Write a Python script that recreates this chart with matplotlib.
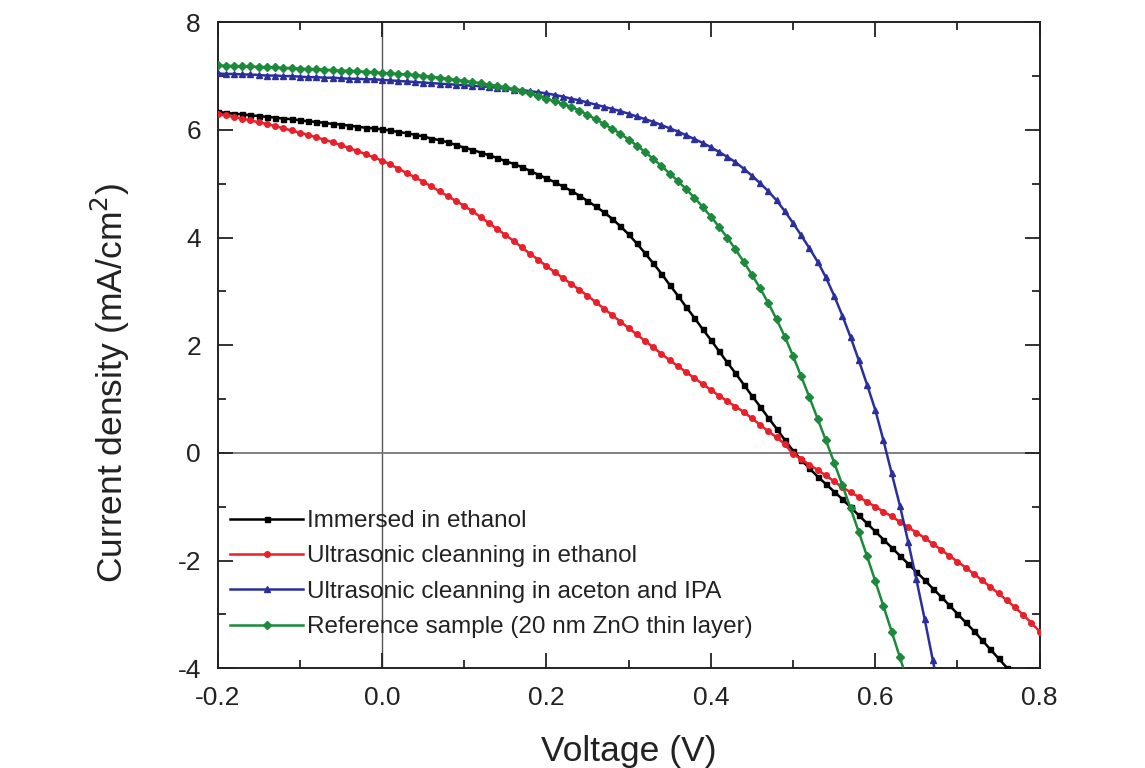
import matplotlib
matplotlib.use("Agg")
import matplotlib.pyplot as plt

plt.rcParams['font.family'] = ['Liberation Sans', 'DejaVu Sans']

# ---------------------  J-V data (0.01 V steps) --------------------------------------------
voltage = [-0.20, -0.19, -0.18, -0.17, -0.16, -0.15, -0.14, -0.13, -0.12, -0.11,
           -0.10, -0.09, -0.08, -0.07, -0.06, -0.05, -0.04, -0.03, -0.02, -0.01,
           0.00, 0.01, 0.02, 0.03, 0.04, 0.05, 0.06, 0.07, 0.08, 0.09,
           0.10, 0.11, 0.12, 0.13, 0.14, 0.15, 0.16, 0.17, 0.18, 0.19,
           0.20, 0.21, 0.22, 0.23, 0.24, 0.25, 0.26, 0.27, 0.28, 0.29,
           0.30, 0.31, 0.32, 0.33, 0.34, 0.35, 0.36, 0.37, 0.38, 0.39,
           0.40, 0.41, 0.42, 0.43, 0.44, 0.45, 0.46, 0.47, 0.48, 0.49,
           0.50, 0.51, 0.52, 0.53, 0.54, 0.55, 0.56, 0.57, 0.58, 0.59,
           0.60, 0.61, 0.62, 0.63, 0.64, 0.65, 0.66, 0.67, 0.68, 0.69,
           0.70, 0.71, 0.72, 0.73, 0.74, 0.75, 0.76, 0.77, 0.78, 0.79,
           0.80]

j_immersed = [6.33, 6.32, 6.30, 6.29, 6.27, 6.26, 6.24, 6.23, 6.21, 6.20,
              6.18, 6.16, 6.15, 6.13, 6.11, 6.10, 6.08, 6.06, 6.04, 6.03,
              6.01, 5.99, 5.96, 5.94, 5.91, 5.88, 5.84, 5.81, 5.77, 5.72,
              5.67, 5.63, 5.58, 5.53, 5.48, 5.42, 5.37, 5.31, 5.24, 5.17,
              5.10, 5.03, 4.95, 4.87, 4.78, 4.68, 4.58, 4.47, 4.35, 4.21,
              4.06, 3.89, 3.71, 3.52, 3.33, 3.12, 2.92, 2.71, 2.51, 2.30,
              2.10, 1.89, 1.68, 1.48, 1.27, 1.06, 0.86, 0.65, 0.45, 0.24,
              0.04, -0.13, -0.29, -0.44, -0.58, -0.72, -0.86, -1.01, -1.16, -1.31,
              -1.46, -1.61, -1.76, -1.91, -2.06, -2.21, -2.36, -2.52, -2.67, -2.83,
              -2.99, -3.15, -3.31, -3.48, -3.65, -3.82, -3.99]

j_ultra_ethanol = [6.29, 6.27, 6.24, 6.21, 6.18, 6.14, 6.11, 6.07, 6.03, 5.99,
                   5.95, 5.91, 5.86, 5.82, 5.77, 5.72, 5.66, 5.61, 5.55, 5.49,
                   5.43, 5.36, 5.28, 5.20, 5.12, 5.04, 4.95, 4.86, 4.77, 4.68,
                   4.59, 4.49, 4.38, 4.27, 4.16, 4.05, 3.94, 3.82, 3.70, 3.59,
                   3.47, 3.36, 3.25, 3.14, 3.03, 2.92, 2.80, 2.68, 2.56, 2.44,
                   2.32, 2.20, 2.08, 1.96, 1.84, 1.72, 1.61, 1.50, 1.39, 1.28,
                   1.17, 1.06, 0.96, 0.86, 0.76, 0.64, 0.52, 0.40, 0.29, 0.16,
                   -0.02, -0.12, -0.22, -0.32, -0.42, -0.53, -0.64, -0.73, -0.82, -0.91,
                   -1.00, -1.09, -1.18, -1.28, -1.38, -1.48, -1.58, -1.69, -1.80, -1.91,
                   -2.02, -2.13, -2.25, -2.37, -2.49, -2.61, -2.74, -2.87, -3.01, -3.16,
                   -3.32]

j_ultra_aceton = [7.05, 7.04, 7.04, 7.03, 7.03, 7.02, 7.01, 7.01, 7.00, 7.00,
                  6.99, 6.98, 6.98, 6.97, 6.97, 6.96, 6.95, 6.95, 6.94, 6.94,
                  6.93, 6.92, 6.91, 6.90, 6.89, 6.88, 6.87, 6.86, 6.85, 6.84,
                  6.83, 6.82, 6.81, 6.80, 6.78, 6.77, 6.75, 6.74, 6.72, 6.70,
                  6.68, 6.65, 6.62, 6.58, 6.55, 6.51, 6.47, 6.43, 6.39, 6.35,
                  6.30, 6.25, 6.20, 6.15, 6.09, 6.03, 5.97, 5.90, 5.83, 5.76,
                  5.68, 5.59, 5.50, 5.40, 5.28, 5.15, 5.01, 4.86, 4.69, 4.49,
                  4.27, 4.04, 3.80, 3.55, 3.26, 2.92, 2.55, 2.15, 1.72, 1.27,
                  0.80, 0.23, -0.38, -0.98, -1.65, -2.35, -3.08, -3.85, -4.62]

j_reference = [7.20, 7.19, 7.19, 7.18, 7.18, 7.17, 7.17, 7.16, 7.15, 7.15,
               7.14, 7.13, 7.13, 7.12, 7.11, 7.10, 7.10, 7.09, 7.08, 7.07,
               7.06, 7.05, 7.04, 7.03, 7.02, 7.00, 6.99, 6.97, 6.95, 6.93,
               6.91, 6.89, 6.87, 6.84, 6.82, 6.79, 6.76, 6.72, 6.68, 6.63,
               6.58, 6.53, 6.48, 6.43, 6.36, 6.28, 6.20, 6.11, 6.02, 5.93,
               5.82, 5.71, 5.59, 5.46, 5.33, 5.19, 5.05, 4.90, 4.74, 4.57,
               4.39, 4.20, 4.00, 3.78, 3.55, 3.31, 3.06, 2.78, 2.48, 2.16,
               1.80, 1.42, 1.03, 0.63, 0.23, -0.18, -0.60, -1.03, -1.47, -1.92,
               -2.38, -2.85, -3.32, -3.80, -4.28]

labels = ['Immersed in ethanol',
          'Ultrasonic cleanning in ethanol',
          'Ultrasonic cleanning in aceton and IPA',
          'Reference sample (20 nm ZnO thin layer)']

x_ticks = [-0.2, 0.0, 0.2, 0.4, 0.6, 0.8]
x_ticklabels = ['-0.2', '0.0', '0.2', '0.4', '0.6', '0.8']
y_ticks = [-4, -2, 0, 2, 4, 6, 8]
y_ticklabels = ['-4', '-2', '0', '2', '4', '6', '8']

# -------------------------------------  Plot ------------------------------------------
fig = plt.figure(figsize=(11.45, 7.68), dpi=100)
ax = fig.add_axes([0.190, 0.130, 0.718, 0.841])

ax.axvline(0, color='#555555', lw=1.0, zorder=1)
ax.axhline(0, color='#777777', lw=1.3, zorder=1)

series = [(j_immersed, 'black', 's', 3.6),
          (j_ultra_ethanol, '#e8202a', 'o', 4.0),
          (j_ultra_aceton, '#2b2f9c', '^', 4.0),
          (j_reference, '#1b8a3a', 'D', 3.6)]

for (j, col, mk, ms), lab in zip(series, labels):
    ax.plot(voltage[:len(j)], j, color=col, marker=mk, markersize=ms,
            lw=1.8, label=lab, zorder=3)

ax.set_xlim(-0.2, 0.8)
ax.set_ylim(-4, 8)
ax.set_xticks(x_ticks)
ax.set_xticklabels(x_ticklabels)
ax.set_xticks([-0.1, 0.1, 0.3, 0.5, 0.7], minor=True)
ax.set_yticks(y_ticks)
ax.set_yticklabels(y_ticklabels)
ax.set_yticks([-3, -1, 1, 3, 5, 7], minor=True)

ax.tick_params(which='both', direction='in', top=True, right=True,
               labelsize=19, width=1.3, colors='#222222')
ax.tick_params(axis='x', pad=13)
ax.tick_params(axis='y', pad=12)
ax.tick_params(which='major', length=11)
ax.tick_params(which='minor', length=6)
for s in ax.spines.values():
    s.set_linewidth(1.4)
    s.set_color('#222222')

ax.set_xlabel('Voltage (V)', fontsize=25.5, color='#222222', labelpad=18)
ax.set_ylabel('Current density (mA/cm$^2$)', fontsize=25.5, color='#222222')
ax.yaxis.set_label_coords(-0.104, 0.441)

leg = ax.legend(loc='lower left', frameon=False, fontsize=17.5, handlelength=3.0,
                handletextpad=0.15, labelspacing=0.55, borderaxespad=0.3,
                bbox_to_anchor=(-0.005, 0.02))
for t in leg.get_texts():
    t.set_color('#222222')

fig.savefig('out.png', dpi=100)
